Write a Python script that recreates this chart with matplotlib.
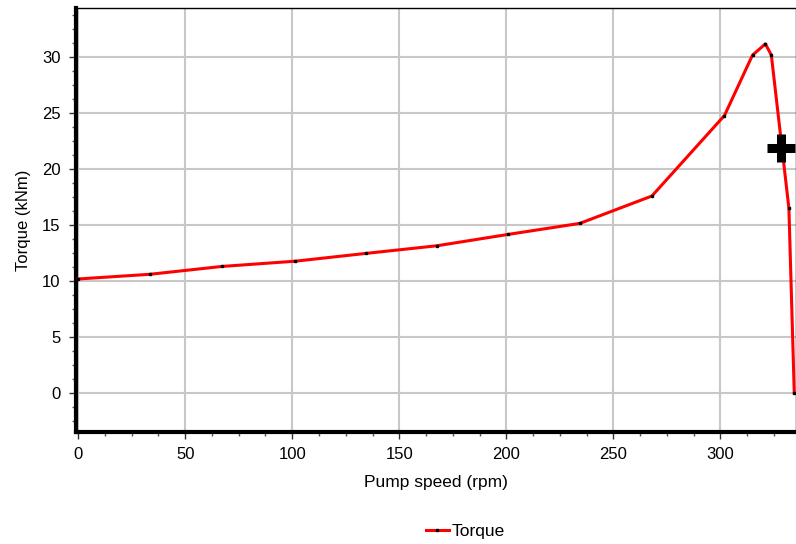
import matplotlib
matplotlib.use("Agg")
import matplotlib.pyplot as plt
from matplotlib.ticker import MultipleLocator

speed = [0, 33.6, 67.1, 101.4, 134.6, 167.6, 201, 234.3, 268, 301.9, 315, 321, 323.8, 332, 334.5]
torque = [10.18, 10.6, 11.3, 11.77, 12.47, 13.15, 14.17, 15.15, 17.6, 24.8, 30.2, 31.2, 30.2, 16.5, 0]
cursor = (328.5, 21.9)

plt.rcParams['font.family'] = ['Liberation Sans', 'DejaVu Sans']

fig = plt.figure(figsize=(7.96, 5.44), dpi=100)
ax = fig.add_axes([0.0955, 0.206, 0.905, 0.779])

line, = ax.plot(speed, torque, color='red', lw=2.2, marker='s', ms=2,
                mfc='black', mec='black', label='Torque', zorder=3, clip_on=False)
ax.plot(*cursor, marker='+', color='black', ms=20, mew=6.5, zorder=4, clip_on=False)

ax.set_xlim(-1, 335.5)
ax.set_ylim(-3.5, 34.4)
ax.xaxis.set_major_locator(MultipleLocator(50))
ax.xaxis.set_minor_locator(MultipleLocator(12.5))
ax.yaxis.set_major_locator(MultipleLocator(5))
ax.yaxis.set_minor_locator(MultipleLocator(1.25))
ax.grid(True, which='major', color='#c8c8c8', lw=1.5)
ax.set_axisbelow(True)

for s in ['left', 'bottom']:
    ax.spines[s].set_linewidth(3)
for s in ['top', 'right']:
    ax.spines[s].set_linewidth(1)
ax.tick_params(which='major', length=5, width=1, labelsize=12, color='#333333', pad=6)
ax.tick_params(which='minor', length=3, width=1, color='#555555')

ax.set_xlabel('Pump speed (rpm)', fontsize=12.5, labelpad=9)
ax.set_ylabel('Torque (kNm)', fontsize=12, labelpad=8)

fig.legend(handles=[line], loc='lower center', bbox_to_anchor=(0.585, -0.02),
           frameon=False, fontsize=12.5, handlelength=1.3, handletextpad=0.2)

fig.savefig('out.png', dpi=100)
